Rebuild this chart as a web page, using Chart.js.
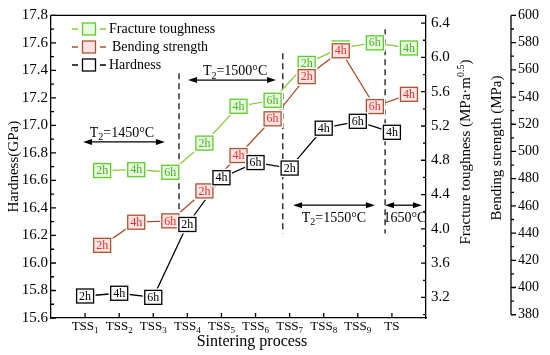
<!DOCTYPE html>
<html><head><meta charset="utf-8">
<script src="https://cdn.jsdelivr.net/npm/chart.js@4.4.1/dist/chart.umd.min.js"></script>
<style>html,body{margin:0;padding:0;background:#fff}</style>
</head><body>
<canvas id="c" width="550" height="355"></canvas>
<script>
const F = 'Liberation Serif';

const xLabels = ['TSS', 'TSS', 'TSS', 'TSS', 'TSS', 'TSS', 'TSS', 'TSS', 'TSS', 'TS'];
const xSubs = ['1', '2', '3', '4', '5', '6', '7', '8', '9', ''];
const hours = ['2h','4h','6h','2h','4h','6h','2h','4h','6h','4h'];
const hardness = [15.76, 15.78, 15.75, 16.28, 16.62, 16.73, 16.69, 16.98, 17.03, 16.95];
const toughness = [4.68, 4.69, 4.66, 5.00, 5.43, 5.50, 5.93, 6.11, 6.17, 6.11];
const bending = [431, 448, 449, 471, 497, 524, 555, 574, 533, 542];

const hardTicks = [15.6, 15.8, 16.0, 16.2, 16.4, 16.6, 16.8, 17.0, 17.2, 17.4, 17.6, 17.8];
const toughTicks = [3.2, 3.6, 4.0, 4.4, 4.8, 5.2, 5.6, 6.0, 6.4];
const bendTicks = [380, 400, 420, 440, 460, 480, 500, 520, 540, 560, 580, 600];

// dashed dividers (x in category units, y in GPa)
const dividers = [
  {x: 3.755, y1: 16.32, y2: 17.38},
  {x: 6.80, y1: 16.215, y2: 17.525},
  {x: 9.80, y1: 16.215, y2: 17.70}
];
// temperature spans: arrow from x1 to x2 at y, text at ty
const spans = [
  {x1: 0.94, x2: 3.34, y: 16.88, ty: 16.945, tx: 2.08, text: [['T',0],['2',1],['=1450°C',0]]},
  {x1: 4.02, x2: 6.60, y: 17.33, ty: 17.39, tx: 5.40, text: [['T',0],['2',1],['=1500°C',0]]},
  {x1: 7.10, x2: 9.50, y: 16.42, ty: 16.325, tx: 8.30, text: [['T',0],['2',1],['=1550°C',0]]},
  {x1: 9.80, x2: 10.88, y: 16.42, ty: 16.325, tx: 10.38, text: [['1650°C',0]]}
];

function rich(ctx, parts, x, y, size) {
  const fonts = parts.map(p => (p[1] ? Math.round(size * 0.68) : size) + 'px "' + F + '"');
  let w = 0;
  parts.forEach((p, i) => { ctx.font = fonts[i]; w += ctx.measureText(p[0]).width; });
  let cx = x - w / 2;
  ctx.textAlign = 'left'; ctx.textBaseline = 'middle';
  parts.forEach((p, i) => {
    ctx.font = fonts[i];
    const dy = p[1] === 1 ? size * 0.3 : p[1] === 2 ? -size * 0.33 : 0;
    ctx.fillText(p[0], cx, y + dy);
    cx += ctx.measureText(p[0]).width;
  });
}

function arrowH(ctx, x1, x2, y) {
  ctx.beginPath(); ctx.moveTo(x1 + 4, y); ctx.lineTo(x2 - 4, y); ctx.stroke();
  ctx.beginPath(); ctx.moveTo(x1, y); ctx.lineTo(x1 + 9, y - 3); ctx.lineTo(x1 + 9, y + 3); ctx.closePath(); ctx.fill();
  ctx.beginPath(); ctx.moveTo(x2, y); ctx.lineTo(x2 - 9, y - 3); ctx.lineTo(x2 - 9, y + 3); ctx.closePath(); ctx.fill();
}

function box(ctx, ds, x, y, w, h, txt) {
  ctx.fillStyle = '#fff';
  ctx.fillRect(x - w / 2 - 2, y - h / 2 - 2, w + 4, h + 4);
  ctx.fillStyle = ds.boxFill;
  ctx.fillRect(x - w / 2, y - h / 2, w, h);
  ctx.strokeStyle = ds.boxBorder; ctx.lineWidth = 1.3;
  ctx.strokeRect(x - w / 2, y - h / 2, w, h);
  if (txt) {
    ctx.fillStyle = ds.textColor;
    ctx.font = '12px "' + F + '"';
    ctx.textAlign = 'center'; ctx.textBaseline = 'middle';
    ctx.fillText(txt, x, y + 0.5);
  }
}

function minors(t) {
  const out = [];
  for (let i = 0; i < t.length - 1; i++) out.push((t[i] + t[i + 1]) / 2);
  out.push(t[0] - (t[1] - t[0]) / 2);
  return out;
}

const deco = {
  id: 'deco',
  beforeDatasetsDraw(chart) {
    const ctx = chart.ctx, sx = chart.scales.x, sy = chart.scales.y;
    ctx.save();
    ctx.strokeStyle = '#000'; ctx.lineWidth = 1.2; ctx.setLineDash([6, 4]);
    dividers.forEach(d => {
      const px = sx.getPixelForValue(d.x);
      ctx.beginPath(); ctx.moveTo(px, sy.getPixelForValue(d.y2)); ctx.lineTo(px, sy.getPixelForValue(d.y1)); ctx.stroke();
    });
    ctx.setLineDash([]);
    ctx.fillStyle = '#000'; ctx.lineWidth = 1.3;
    spans.forEach(s => {
      arrowH(ctx, sx.getPixelForValue(s.x1), sx.getPixelForValue(s.x2), sy.getPixelForValue(s.y));
      rich(ctx, s.text, sx.getPixelForValue(s.tx), sy.getPixelForValue(s.ty), 14);
    });
    ctx.restore();
  },
  afterDatasetsDraw(chart) {
    const ctx = chart.ctx;
    ctx.save();
    chart.data.datasets.forEach((ds, i) => {
      chart.getDatasetMeta(i).data.forEach((pt, j) => box(ctx, ds, pt.x, pt.y, 17, 14, hours[j]));
    });
    ctx.restore();
  },
  afterDraw(chart) {
    const ctx = chart.ctx, a = chart.chartArea;
    const {x, y, y2, y3} = chart.scales;
    ctx.save();
    ctx.strokeStyle = '#000'; ctx.lineWidth = 1.3;
    // top frame
    ctx.beginPath(); ctx.moveTo(a.left, a.top); ctx.lineTo(a.right, a.top); ctx.stroke();
    // ticks
    ctx.beginPath();
    x.ticks.forEach(t => { const p = x.getPixelForValue(t.value); ctx.moveTo(p, a.bottom); ctx.lineTo(p, a.bottom - 5); });
    hardTicks.forEach(v => { const p = y.getPixelForValue(v); ctx.moveTo(a.left, p); ctx.lineTo(a.left + 5, p); });
    minors(hardTicks).forEach(v => { if (v < y.min) return; const p = y.getPixelForValue(v); ctx.moveTo(a.left, p); ctx.lineTo(a.left + 3, p); });
    toughTicks.forEach(v => { const p = y2.getPixelForValue(v); ctx.moveTo(a.right, p); ctx.lineTo(a.right - 5, p); });
    minors(toughTicks).forEach(v => { if (v < y2.min) return; const p = y2.getPixelForValue(v); ctx.moveTo(a.right, p); ctx.lineTo(a.right - 3, p); });
    const bx = y3.left;
    bendTicks.forEach(v => { const p = y3.getPixelForValue(v); ctx.moveTo(bx, p); ctx.lineTo(bx + 5, p); });
    minors(bendTicks).forEach(v => { if (v < bendTicks[0]) return; const p = y3.getPixelForValue(v); ctx.moveTo(bx, p); ctx.lineTo(bx + 3, p); });
    ctx.moveTo(bx, y3.getPixelForValue(bendTicks[bendTicks.length - 1])); ctx.lineTo(bx, y3.getPixelForValue(bendTicks[0]));
    ctx.stroke();

    // x tick labels with subscripts
    ctx.fillStyle = '#000';
    x.ticks.forEach((t, i) => {
      rich(ctx, [[xLabels[i], 0], [xSubs[i], 1]], x.getPixelForValue(t.value), a.bottom + 9, 13);
    });

    // axis titles
    rich(ctx, [['Sintering process', 0]], 252, 342, 16);
    ctx.save(); ctx.translate(466, 152); ctx.rotate(-Math.PI / 2);
    rich(ctx, [['Fracture toughness (MPa·m', 0], ['0.5', 2], [')', 0]], 0, 0, 15);
    ctx.restore();
    ctx.save(); ctx.translate(497, 148); ctx.rotate(-Math.PI / 2);
    rich(ctx, [['Bending strength (MPa)', 0]], 0, 0, 15);
    ctx.restore();

    // legend
    chart.data.datasets.forEach((ds, i) => {
      const ly = 29 + i * 18;
      ctx.strokeStyle = ds.borderColor; ctx.lineWidth = 1.5;
      ctx.beginPath(); ctx.moveTo(72, ly); ctx.lineTo(78, ly); ctx.moveTo(100, ly); ctx.lineTo(106, ly); ctx.stroke();
      box(ctx, ds, 89, ly, 13, 12, '');
      ctx.fillStyle = '#000'; ctx.font = '14px "' + F + '"';
      ctx.textAlign = 'left'; ctx.textBaseline = 'middle';
      ctx.fillText(ds.label, i === 1 ? 112 : 109, ly);
    });
    ctx.restore();
  }
};

const axisFont = {family: F, size: 15};
const noGrid = {display: false, drawTicks: false};
new Chart(document.getElementById('c'), {
  type: 'line',
  data: {
    datasets: [
      {label: 'Fracture toughness', yAxisID: 'y2', data: toughness.map((v, i) => ({x: i + 1.5, y: v})),
       borderColor: '#8cc63f', boxFill: '#eafadf', boxBorder: '#5ccc2c', textColor: '#45b52a'},
      {label: 'Bending strength', yAxisID: 'y3', data: bending.map((v, i) => ({x: i + 1.5, y: v})),
       borderColor: '#a3532e', boxFill: '#fde3e3', boxBorder: '#a9552f', textColor: '#e0352b'},
      {label: 'Hardness', yAxisID: 'y', data: hardness.map((v, i) => ({x: i + 1, y: v})),
       borderColor: '#000', boxFill: '#fff', boxBorder: '#000', textColor: '#000'}
    ].map(d => Object.assign(d, {borderWidth: 1.3, pointRadius: 0, tension: 0, fill: false}))
  },
  options: {
    responsive: false, animation: false, devicePixelRatio: 1,
    layout: {padding: {top: 14, left: 0, right: 0, bottom: 0}},
    plugins: {legend: {display: false}, tooltip: {enabled: false}},
    scales: {
      x: {type: 'linear', min: 0, max: 11,
          afterBuildTicks: s => { s.ticks = xLabels.map((_, i) => ({value: i + 1})); },
          ticks: {display: false},
          grid: noGrid, border: {color: '#000', width: 1.3},
          afterFit: s => { s.height = 37; }},
      y: {position: 'left', min: 15.6, max: 17.8,
          afterBuildTicks: s => { s.ticks = hardTicks.map(v => ({value: v})); },
          ticks: {callback: v => v.toFixed(1), font: axisFont, color: '#000', padding: 3},
          title: {display: true, text: 'Hardness(GPa)', font: axisFont, color: '#000', padding: {top: 5, bottom: 0}},
          grid: noGrid, border: {color: '#000', width: 1.3},
          afterFit: s => { s.width = 51; }},
      y2: {position: 'right', weight: 0, min: 2.96, max: 6.49,
          afterBuildTicks: s => { s.ticks = toughTicks.map(v => ({value: v})); },
          ticks: {callback: v => v.toFixed(1), font: axisFont, color: '#000', padding: 5},
          grid: noGrid, border: {color: '#000', width: 1.3},
          afterFit: s => { s.width = 85; }},
      y3: {position: 'right', weight: 1, min: 377.6, max: 600,
          afterBuildTicks: s => { s.ticks = bendTicks.map(v => ({value: v})); },
          ticks: {callback: v => String(v), font: {family: F, size: 14}, color: '#000', padding: 7},
          grid: noGrid, border: {display: false},
          afterFit: s => { s.width = 39; }}
    }
  },
  plugins: [deco]
});
</script>
</body></html>
